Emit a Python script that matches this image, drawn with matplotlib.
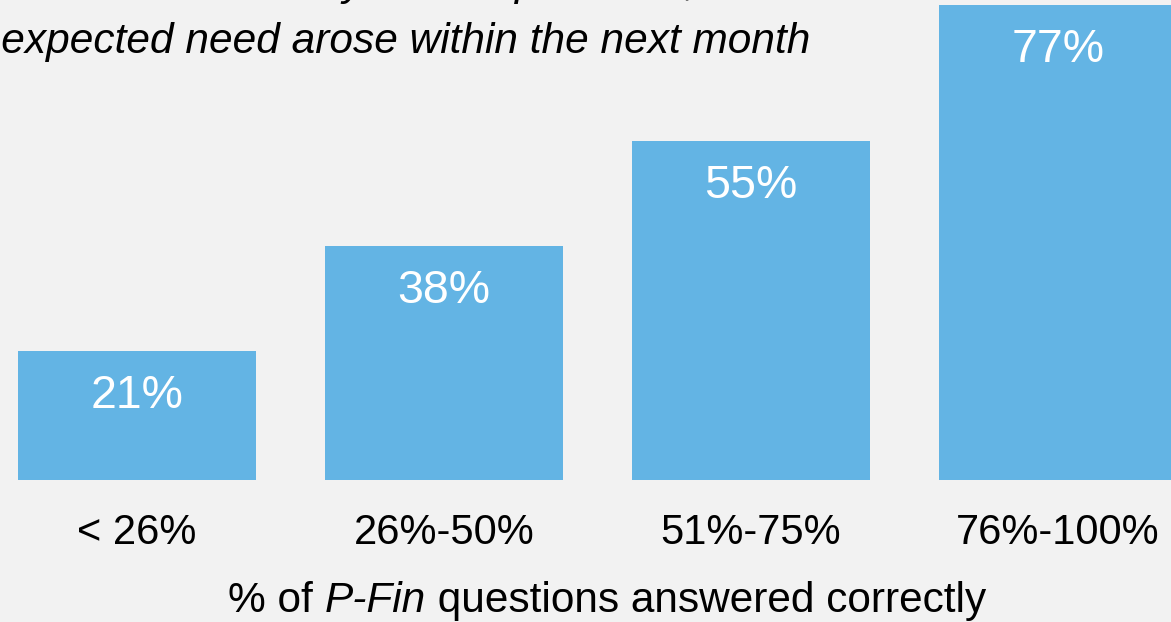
import matplotlib.pyplot as plt

# data
categories = ["< 26%", "26%-50%", "51%-75%", "76%-100%"]
values = [21, 38, 55, 77]
value_labels = ["21%", "38%", "55%", "77%"]

title_line1 = "% who could certainly come up with $2,000 if an"
title_line2 = "unexpected need arose within the next month"

bg = "#F2F2F2"
bar_color = "#63B4E4"

plt.rcParams['font.family'] = ['Liberation Sans', 'DejaVu Sans']

fig = plt.figure(figsize=(11.71, 6.22), dpi=100, facecolor=bg)
# axes placed so the bars land where they sit in the picture
ax = fig.add_axes([0, 142 / 622, 1, 480 / 622])
ax.set_facecolor(bg)

x = range(len(categories))
ax.bar(x, values, width=238 / 307, color=bar_color)
ax.set_xlim(-137 / 307, (1171 - 137) / 307)
ax.set_ylim(0, 480 / 6.165)

for xi, v, lab in zip(x, values, value_labels):
    ax.annotate(lab, (xi, v), xytext=(0, -45 * 0.72), textcoords='offset points',
                ha='center', va='center', color='white', fontsize=33.5)

ax.set_xticks(list(x))
ax.set_xticklabels(categories, fontsize=30)
ax.tick_params(axis='x', length=0, pad=24)
ax.set_yticks([])
for s in ax.spines.values():
    s.set_visible(False)

# x axis label, with P-Fin in italics
t1 = fig.text(228 / 1171, 1 - 621 / 622, "% of ", fontsize=30.5, va='bottom', ha='left')
t2 = plt.annotate("P-Fin", xy=(1, 0), xycoords=t1, va='bottom', ha='left',
                  fontsize=30.5, style='italic')
plt.annotate(" questions answered correctly", xy=(1, 0), xycoords=t2,
             va='bottom', ha='left', fontsize=30.5)

# title, cut off at the top and left like in the reference
fig.text(-46 / 1171, 1 + 5 / 622, title_line1, fontsize=30.5, style='italic', va='baseline')
fig.text(-46 / 1171, 1 - 53 / 622, title_line2, fontsize=30.5, style='italic', va='baseline')

fig.savefig("out.png", dpi=100, facecolor=bg)
